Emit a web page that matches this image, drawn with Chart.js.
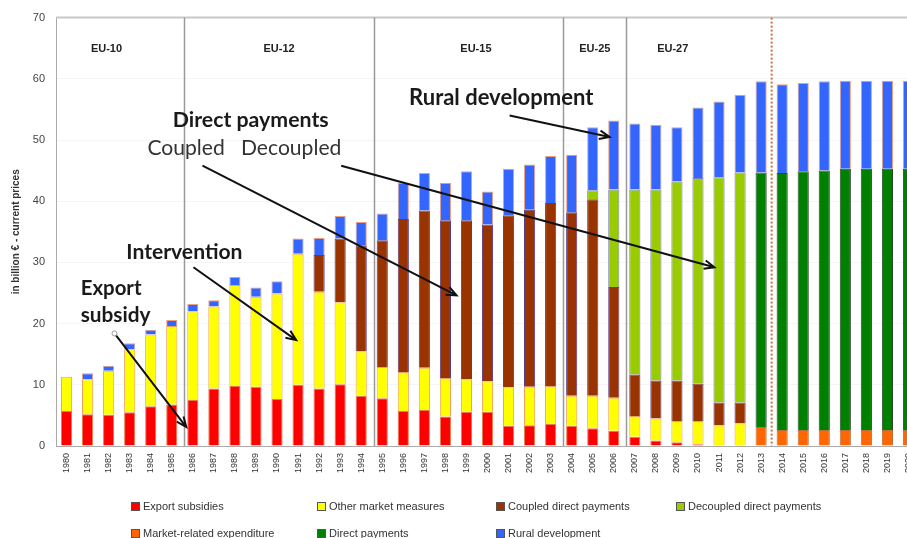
<!DOCTYPE html>
<html>
<head>
<meta charset="utf-8">
<script src="https://cdn.jsdelivr.net/npm/chart.js@4.4.0/dist/chart.umd.min.js"></script>
<style>
    body { margin: 0; overflow: hidden; background: #fff; }
    #caixa { position: relative; width: 930px; height: 538px; }
    .leg { position: absolute; font-family: "Liberation Sans", Arial, sans-serif; font-size: 11px; color: #333; white-space: nowrap; line-height: 12px; }
    .leg span { display: inline-block; width: 7px; height: 7px; border: 1px solid #555; margin-right: 3px; vertical-align: -1px; }
</style>
</head>
<body>
<div id="caixa">
    <canvas id="graficoPac" width="930" height="538"></canvas>
    <div id="legenda"></div>
</div>
<script>
// anos (categorias)
const anos = [];
for (let a = 1980; a <= 2020; a++) anos.push(String(a));

// valores em bilhoes de euros (cada segmento da pilha)
const exportSubsidies = [5.7, 5.2, 5.1, 5.5, 6.5, 6.8, 7.5, 9.4, 9.8, 9.7, 7.7, 10.0, 9.4, 10.1, 8.2, 7.8, 5.7, 5.9, 4.8, 5.6,
    5.6, 3.3, 3.4, 3.6, 3.3, 2.9, 2.5, 1.5, 0.9, 0.6, 0.3, null, null, null, null, null, null, null, null, null, null];
const otherMarket = [5.6, 5.7, 7.2, 10.3, 11.7, 12.8, 14.5, 13.4, 16.5, 14.7, 17.2, 21.4, 15.8, 13.4, 7.3, 5.1, 6.4, 6.9, 6.3, 5.3,
    5.0, 6.3, 6.3, 6.2, 4.9, 5.3, 5.4, 3.4, 3.6, 3.5, 3.8, 3.4, 3.7, null, null, null, null, null, null, null, null];
const coupledDP = [null, null, null, null, null, null, null, null, null, null, null, null, 6.0, 10.4, 17.3, 20.7, 25.0, 25.7, 25.8, 26.0,
    25.6, 28.1, 28.9, 29.9, 30.0, 32.1, 18.1, 6.8, 6.2, 6.6, 6.1, 3.7, 3.4, null, null, null, null, null, null, null, null];
const decoupledDP = [null, null, null, null, null, null, null, null, null, null, null, null, null, null, null, null, null, null, null, null,
    null, null, null, null, null, 1.5, 15.9, 30.2, 31.2, 32.5, 33.6, 36.8, 37.6, null, null, null, null, null, null, null, null];
const marketRelated = [null, null, null, null, null, null, null, null, null, null, null, null, null, null, null, null, null, null, null, null,
    null, null, null, null, null, null, null, null, null, null, null, null, null, 3.1, 2.6, 2.6, 2.6, 2.6, 2.6, 2.6, 2.6];
const directPayments = [null, null, null, null, null, null, null, null, null, null, null, null, null, null, null, null, null, null, null, null,
    null, null, null, null, null, null, null, null, null, null, null, null, null, 41.6, 42.0, 42.3, 42.4, 42.7, 42.7, 42.7, 42.7];
const ruralDev = [null, 1.0, 0.8, 1.0, 0.8, 1.0, 1.2, 1.0, 1.3, 1.5, 2.0, 2.5, 2.8, 3.7, 3.8, 4.4, 5.9, 6.1, 6.1, 8.0,
    5.4, 7.6, 7.4, 7.7, 9.4, 10.3, 11.3, 10.8, 10.6, 8.9, 11.5, 12.4, 12.7, 14.9, 14.5, 14.4, 14.6, 14.4, 14.4, 14.4, 14.4];

const yTicks = [0, 10, 20, 30, 40, 50, 60, 70];

// divisoes de alargamento da UE (posicao em indice de categoria)
const divisoes = [5.6, 14.6, 23.6, 26.6];
const rotulosUE = [
    { texto: 'EU-10', x: 1.9 },
    { texto: 'EU-12', x: 10.1 },
    { texto: 'EU-15', x: 19.45 },
    { texto: 'EU-25', x: 25.1 },
    { texto: 'EU-27', x: 28.8 }
];
const linhaPrevisao = 33.5;

// setas: de [indice, valor] para [indice, valor]
const setas = [
    { de: [21.05, 54.0], para: [25.8, 50.5] },
    { de: [6.46, 45.8], para: [18.53, 24.6] },
    { de: [13.05, 45.8], para: [30.78, 29.2] },
    { de: [6.03, 29.2], para: [10.91, 17.3] },
    { de: [2.28, 18.4], para: [5.69, 3.1] }
];

// textos das anotacoes: x em indice, y em valor, largura alvo
const anotacoes = [
    { texto: 'Rural development', x: 20.65, y: 56.8, larg: 186, negrito: true },
    { texto: 'Direct payments', x: 8.75, y: 53.2, larg: 156, negrito: true },
    { texto: 'Coupled   Decoupled', x: 8.45, y: 48.6, larg: 194, negrito: false },
    { texto: 'Intervention', x: 5.6, y: 31.6, larg: 116, negrito: true },
    { texto: 'Export', x: 1.2, y: 25.8, larg: 61, negrito: true, esq: 80.7 },
    { texto: 'subsidy', x: 1.2, y: 21.4, larg: 70, negrito: true, esq: 80.7 }
];

const series = [
    { label: 'Export subsidies', data: exportSubsidies, cor: '#ff0000', borda: '#e87a50' },
    { label: 'Other market measures', data: otherMarket, cor: '#ffff00', borda: '#eda25c' },
    { label: 'Coupled direct payments', data: coupledDP, cor: '#993300', borda: '#5a3a80' },
    { label: 'Decoupled direct payments', data: decoupledDP, cor: '#99cc00', borda: '#7a7ac0' },
    { label: 'Market-related expenditure', data: marketRelated, cor: '#ff6600', borda: '#b8703a' },
    { label: 'Direct payments', data: directPayments, cor: '#008000', borda: '#2a4a2a' },
    { label: 'Rural development', data: ruralDev, cor: '#3366ff', borda: '#e8a080' }
];

function desenharSeta(ctx, x1, y1, x2, y2) {
    const ang = Math.atan2(y2 - y1, x2 - x1);
    const tam = 11;
    ctx.beginPath();
    ctx.moveTo(x1, y1);
    ctx.lineTo(x2, y2);
    ctx.moveTo(x2 - tam * Math.cos(ang - 0.4), y2 - tam * Math.sin(ang - 0.4));
    ctx.lineTo(x2, y2);
    ctx.lineTo(x2 - tam * Math.cos(ang + 0.4), y2 - tam * Math.sin(ang + 0.4));
    ctx.stroke();
}

const pluginAnotacoes = {
    id: 'anotacoes',
    afterDatasetsDraw(chart) {
        const ctx = chart.ctx;
        const xs = chart.scales.x;
        const ys = chart.scales.y;
        const area = chart.chartArea;
        ctx.save();

        // borda superior
        ctx.strokeStyle = '#c8c8c8';
        ctx.lineWidth = 2;
        ctx.beginPath();
        ctx.moveTo(area.left, area.top);
        ctx.lineTo(area.right, area.top);
        ctx.stroke();

        // linhas verticais das divisoes
        ctx.strokeStyle = '#9a9a9a';
        ctx.lineWidth = 1.5;
        divisoes.forEach(function (d) {
            const px = Math.round(xs.getPixelForValue(d)) + 0.5;
            ctx.beginPath();
            ctx.moveTo(px, area.top);
            ctx.lineTo(px, area.bottom);
            ctx.stroke();
        });

        // linha pontilhada (previsao)
        const pp = xs.getPixelForValue(linhaPrevisao);
        ctx.strokeStyle = '#c8733e';
        ctx.lineWidth = 2;
        ctx.setLineDash([2, 2]);
        ctx.beginPath();
        ctx.moveTo(pp, area.top);
        ctx.lineTo(pp, area.bottom);
        ctx.stroke();
        ctx.setLineDash([]);

        // rotulos UE
        ctx.fillStyle = '#222';
        ctx.font = 'bold 11px "Liberation Sans", Arial, sans-serif';
        ctx.textAlign = 'center';
        ctx.textBaseline = 'middle';
        rotulosUE.forEach(function (r) {
            ctx.fillText(r.texto, xs.getPixelForValue(r.x), area.top + 31);
        });

        // setas
        ctx.strokeStyle = '#111';
        ctx.lineWidth = 2;
        setas.forEach(function (s) {
            desenharSeta(ctx, xs.getPixelForValue(s.de[0]), ys.getPixelForValue(s.de[1]),
                xs.getPixelForValue(s.para[0]), ys.getPixelForValue(s.para[1]));
        });
        // pontinho branco no inicio da seta de export
        ctx.fillStyle = '#fff';
        ctx.strokeStyle = '#999';
        ctx.lineWidth = 1;
        ctx.beginPath();
        ctx.arc(xs.getPixelForValue(2.28), ys.getPixelForValue(18.4), 2.5, 0, Math.PI * 2);
        ctx.fill();
        ctx.stroke();

        // textos grandes
        anotacoes.forEach(function (t) {
            const peso = t.negrito ? 'bold ' : '';
            ctx.font = peso + '20px Lato, sans-serif';
            const w = ctx.measureText(t.texto).width;
            const tamanho = Math.min(22, 20 * t.larg / w);
            ctx.font = peso + tamanho.toFixed(1) + 'px Lato, sans-serif';
            ctx.fillStyle = t.negrito ? '#1a1a1a' : '#333';
            ctx.textBaseline = 'middle';
            if (t.esq) {
                ctx.textAlign = 'left';
                ctx.fillText(t.texto, t.esq, ys.getPixelForValue(t.y));
            } else {
                ctx.textAlign = 'center';
                ctx.fillText(t.texto, xs.getPixelForValue(t.x), ys.getPixelForValue(t.y));
            }
        });
        ctx.restore();
    }
};

function plotarGrafico() {
    console.log('iniciando plotagem do gráfico...');

    let dados = {
        labels: anos,
        datasets: series.map(function (s) {
            return {
                label: s.label,
                data: s.data,
                backgroundColor: s.cor,
                borderColor: s.borda,
                borderWidth: 1,
                barPercentage: 0.53,
                categoryPercentage: 1
            };
        })
    };

    const config = {
        type: 'bar',
        data: dados,
        options: {
            responsive: false,
            animation: false,
            layout: { padding: { top: 17, right: 11, left: 0, bottom: 0 } },
            plugins: {
                legend: { display: false },
                tooltip: { enabled: false }
            },
            scales: {
                x: {
                    stacked: true,
                    grid: { display: false, drawTicks: false },
                    border: { color: '#aaa', width: 1 },
                    ticks: {
                        minRotation: 90,
                        maxRotation: 90,
                        padding: 7,
                        color: '#333',
                        font: { family: '"Liberation Sans", Arial, sans-serif', size: 9 }
                    },
                    afterFit: function (scale) { scale.height = 92; }
                },
                y: {
                    stacked: true,
                    min: 0,
                    max: 70,
                    afterBuildTicks: function (scale) {
                        scale.ticks = yTicks.map(function (v) { return { value: v }; });
                    },
                    grid: { color: '#f5f5f5', drawTicks: false },
                    border: { color: '#aaa', width: 1 },
                    ticks: {
                        padding: 11,
                        color: '#444',
                        font: { family: '"Liberation Sans", Arial, sans-serif', size: 11 }
                    },
                    title: {
                        display: true,
                        text: 'in billion € - current prices',
                        color: '#333',
                        padding: { top: 10, bottom: 0 },
                        font: { family: '"Liberation Sans", Arial, sans-serif', size: 10, weight: 'bold' }
                    },
                    afterFit: function (scale) { scale.width = 56; }
                }
            }
        },
        plugins: [pluginAnotacoes]
    };

    let grafico = new Chart(document.getElementById('graficoPac'), config);
}

function montarLegenda() {
    // legenda em grade, 4 colunas na primeira linha e 3 na segunda
    const colunas = [131, 317, 496, 676];
    const linhas = [500, 527];
    const ordem = [[0, 1, 2, 3], [4, 5, 6]];
    ordem.forEach(function (linha, i) {
        linha.forEach(function (idx, j) {
            const s = series[idx];
            legenda.innerHTML += `<div class="leg" style="left:${colunas[j]}px;top:${linhas[i]}px"><span style="background:${s.cor}"></span>${s.label}</div>`;
        });
    });
}

plotarGrafico();
montarLegenda();
</script>
</body>
</html>
